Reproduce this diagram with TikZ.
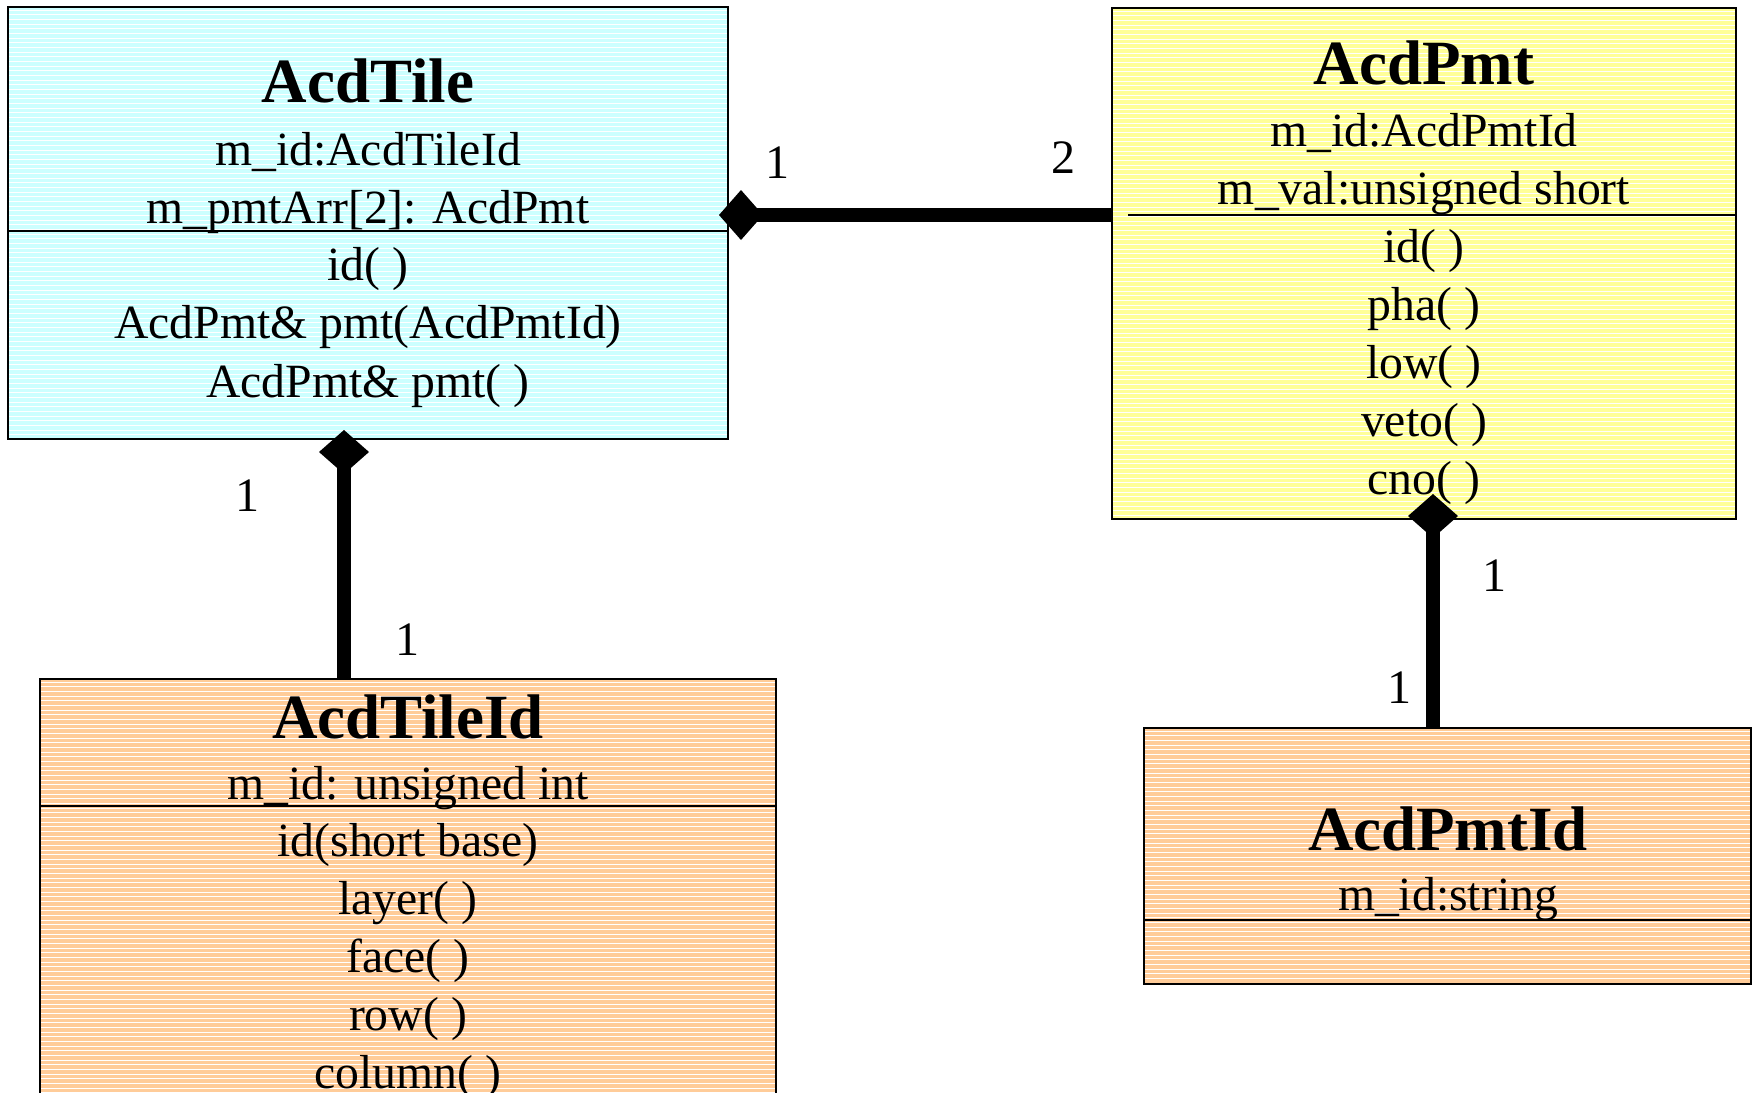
\documentclass[tikz,border=0pt]{standalone}
\usepackage{fontspec}
\setmainfont{Liberation Serif}
\usetikzlibrary{positioning,arrows.meta,calc}

\definecolor{tilecyan}{RGB}{204,255,255}
\definecolor{pmtyellow}{RGB}{255,255,153}
\definecolor{idorange}{RGB}{255,204,153}

% thin white hatching over a class box
\newcommand{\hatchbox}[1]{%
  \begin{scope}
    \clip ([shift={(1,1)}]#1.north west) rectangle ([shift={(-1,-1)}]#1.south east);
    \foreach \s in {0,...,120}
      \draw[white, line width=0.5pt] ($(#1.north west)+(0,3+4.67*\s)$) -- ++(800,0);
  \end{scope}}

\begin{document}
\begin{tikzpicture}[x=0.5pt, y=-0.5pt,
    classbox/.style={draw, line width=1pt, inner sep=0pt, outer sep=0pt},
    divider/.style={line width=1pt},
    title/.style={font=\fontsize{31.5}{38}\selectfont\bfseries, anchor=base},
    member/.style={font=\fontsize{23.85}{29}\selectfont, anchor=base},
    mult/.style={font=\fontsize{24}{29}\selectfont},
    comp/.style={line width=7pt, {Diamond[length=22pt, width=25pt, line width=0pt]}-}]
  \useasboundingbox (0,0) rectangle (1753,1093);
  \clip (0,0) rectangle (1753,1093);

  % class boxes
  \node[classbox, fill=tilecyan, minimum width=360pt, minimum height=216pt] (tile) at (368,223) {};
  \node[classbox, fill=pmtyellow, minimum width=312pt, minimum height=255.5pt] (pmt) at (1424,263.5) {};
  \node[classbox, fill=idorange, minimum width=368pt, minimum height=230pt] (tileid) at (408,909) {};
  \node[classbox, fill=idorange, minimum width=303.5pt, minimum height=128pt] (pmtid) at (1447.5,856) {};
  \hatchbox{tile}
  \hatchbox{pmt}
  \hatchbox{tileid}
  \hatchbox{pmtid}
  \draw[classbox] (tile.north west) rectangle (tile.south east);
  \draw[classbox] (pmt.north west) rectangle (pmt.south east);
  \draw[classbox] (tileid.north west) rectangle (tileid.south east);
  \draw[classbox] (pmtid.north west) rectangle (pmtid.south east);

  % compartments
  \coordinate (pmtdiv) at ($(pmt.north west)+(0,207)$);
  \draw[divider] ($(tile.north west)+(0,224)$) -- ($(tile.north east)+(0,224)$);
  \draw[divider] ($(pmtdiv)+(16,0)$) -- (pmtdiv -| pmt.east);
  \draw[divider] ($(tileid.north west)+(0,127)$) -- ($(tileid.north east)+(0,127)$);
  \draw[divider] ($(pmtid.north west)+(0,192)$) -- ($(pmtid.north east)+(0,192)$);

  % AcdTile
  \node[title] (tilename) at (368,102) {AcdTile};
  \foreach \m [count=\i from 0] in {m\_id:AcdTileId, m\_pmtArr[2]: AcdPmt}
    \node[member] (tilef\i) at (368,165+58*\i) {\m};
  \foreach \m [count=\i from 0] in {id( ), AcdPmt\& pmt(AcdPmtId), AcdPmt\& pmt( )}
    \node[member] (tilem\i) at (368,280+58.5*\i) {\m};

  % AcdPmt
  \node[title] (pmtname) at (1424,84) {AcdPmt};
  \foreach \m [count=\i from 0] in {m\_id:AcdPmtId, m\_val:unsigned short}
    \node[member] (pmtf\i) at (1424,146+58*\i) {\m};
  \foreach \m [count=\i from 0] in {id( ), pha( ), low( ), veto( ), cno( )}
    \node[member] (pmtm\i) at (1424,262+58*\i) {\m};

  % AcdTileId
  \node[title] (tileidname) at (408,738) {AcdTileId};
  \node[member] (tileidf0) at (408,799) {m\_id: unsigned int};
  \foreach \m [count=\i from 0] in {id(short base), layer( ), face( ), row( ), column( )}
    \node[member] (tileidm\i) at (408,856+58*\i) {\m};

  % AcdPmtId
  \node[title] (pmtidname) at (1448,850) {AcdPmtId};
  \node[member] (pmtidf0) at (1448,910) {m\_id:string};

  % compositions
  \coordinate (tilejoint) at ($(tile.south)+(-24,0)$);
  \coordinate (pmtjoint) at ($(pmt.south)+(9,0)$);
  \draw[comp] ($(tile.east |- pmtdiv)+(-9,0)$) -- (pmtdiv);
  \draw[comp] ($(tilejoint)+(0,-9)$) -- (tilejoint |- tileid.north);
  \draw[comp] ($(pmtjoint)+(0,-25)$) -- (pmtjoint |- pmtid.north);

  % multiplicities
  \node[mult] (m1) at (777,163) {1};
  \node[mult] (m2) at (1063,158) {2};
  \node[mult] (m3) at (247,496) {1};
  \node[mult] (m4) at (407,640) {1};
  \node[mult] (m5) at (1494,576) {1};
  \node[mult] (m6) at (1399,688) {1};
\end{tikzpicture}
\end{document}
